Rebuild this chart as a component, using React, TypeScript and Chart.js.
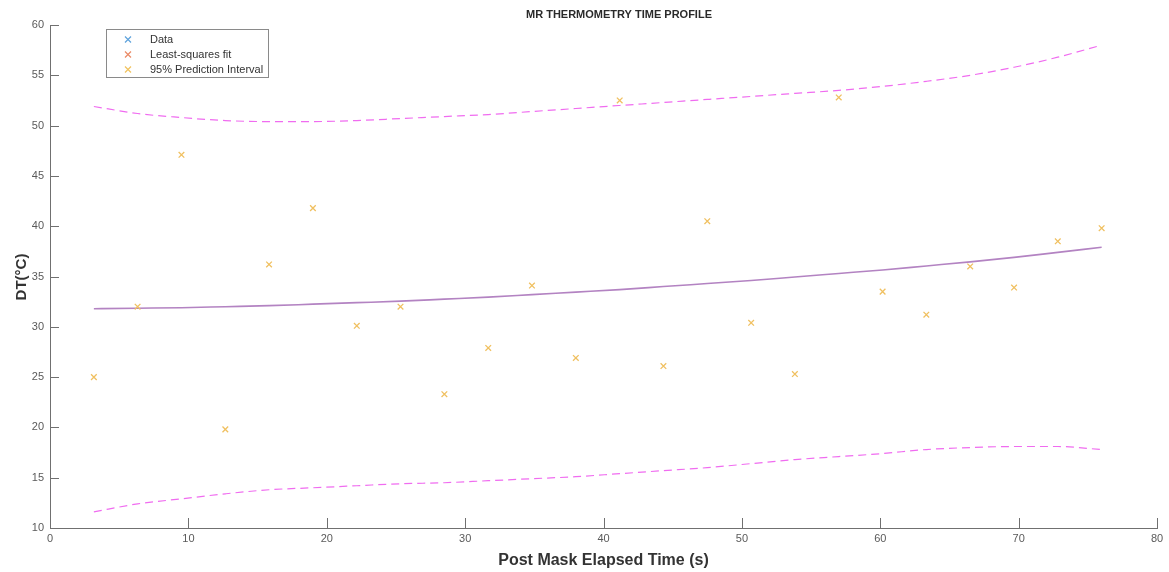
import React, { useEffect, useRef } from "react";
import { Chart, registerables } from "chart.js";

Chart.register(...registerables);

// Elapsed time after mask (s)
const timeS = [3.17, 6.33, 9.5, 12.67, 15.83, 19, 22.17, 25.33, 28.5, 31.67, 34.83, 38, 41.17, 44.33, 47.5, 50.67, 53.83, 57, 60.17, 63.33, 66.5, 69.67, 72.83, 76];
// Measured temperature rise (°C)
const measured = [25.0, 32.0, 47.1, 19.8, 36.2, 41.8, 30.1, 32.0, 23.3, 27.9, 34.1, 26.9, 52.5, 26.1, 40.5, 30.4, 25.3, 52.8, 33.5, 31.2, 36.0, 33.9, 38.5, 39.8];
// Least-squares fit evaluated at each time
const fitted = [31.8, 31.85, 31.9, 32.0, 32.1, 32.25, 32.4, 32.55, 32.75, 32.95, 33.2, 33.45, 33.7, 34.0, 34.3, 34.6, 34.95, 35.3, 35.65, 36.05, 36.45, 36.9, 37.4, 37.9];
// 95% prediction interval bounds
const upperPI = [51.9, 51.2, 50.8, 50.5, 50.4, 50.4, 50.5, 50.7, 50.9, 51.1, 51.4, 51.7, 52.0, 52.3, 52.6, 52.9, 53.2, 53.5, 53.9, 54.4, 55.0, 55.8, 56.8, 58.0];
const lowerPI = [11.6, 12.4, 12.9, 13.4, 13.8, 14.0, 14.2, 14.4, 14.5, 14.7, 14.9, 15.1, 15.4, 15.7, 16.0, 16.4, 16.8, 17.1, 17.4, 17.8, 18.0, 18.1, 18.1, 17.8];

const legendLabels = ["Data", "Least-squares fit", "95% Prediction Interval"];
const legendColors = ["#5fa3dc", "#ea8a66", "#f1c35f"];

const titleText = "MR THERMOMETRY TIME PROFILE";
const xTitle = "Post Mask Elapsed Time (s)";
const yTitle = "DT(°C)";

const FONT = "'Liberation Sans', Arial, sans-serif";
const AXIS_COLOR = "#707070";

const toPts = (ys: number[]) => timeS.map((x, i) => ({ x, y: ys[i] }));

const decorations = {
  id: "decorations",
  afterDraw(chart: any) {
    const ctx = chart.ctx as CanvasRenderingContext2D;
    const { left, right, bottom } = chart.chartArea;
    const xs = chart.scales.x;
    const ys = chart.scales.y;
    ctx.save();

    // inward tick marks
    ctx.strokeStyle = AXIS_COLOR;
    ctx.lineWidth = 1;
    ctx.beginPath();
    xs.ticks.forEach((t: any) => {
      const px = Math.round(xs.getPixelForValue(t.value)) + 0.5;
      ctx.moveTo(px, bottom);
      ctx.lineTo(px, bottom - 10);
    });
    ys.ticks.forEach((t: any) => {
      const py = Math.round(ys.getPixelForValue(t.value)) + 0.5;
      ctx.moveTo(left, py);
      ctx.lineTo(left + 9, py);
    });
    ctx.stroke();

    // title
    ctx.fillStyle = "#2a2a2a";
    ctx.font = `bold 11px ${FONT}`;
    ctx.textAlign = "center";
    ctx.textBaseline = "middle";
    ctx.fillText(titleText, 619, 15);

    // axis titles
    ctx.font = `bold 16px ${FONT}`;
    ctx.fillStyle = "#333";
    ctx.fillText(xTitle, (left + right) / 2, 561);
    ctx.save();
    ctx.translate(22, 277);
    ctx.rotate(-Math.PI / 2);
    ctx.font = `bold 15px ${FONT}`;
    ctx.fillText(yTitle, 0, 0);
    ctx.restore();

    // legend box
    const bx = 106.5, by = 29.5, bw = 162, bh = 48;
    ctx.fillStyle = "#fff";
    ctx.fillRect(bx, by, bw, bh);
    ctx.strokeStyle = "#8a8a8a";
    ctx.lineWidth = 1;
    ctx.strokeRect(bx, by, bw, bh);
    ctx.font = `11px ${FONT}`;
    ctx.textAlign = "left";
    legendLabels.forEach((lbl, i) => {
      const cy = 39.5 + i * 15;
      const cx = 128;
      ctx.strokeStyle = legendColors[i];
      ctx.lineWidth = 1.2;
      ctx.beginPath();
      ctx.moveTo(cx - 3, cy - 3);
      ctx.lineTo(cx + 3, cy + 3);
      ctx.moveTo(cx + 3, cy - 3);
      ctx.lineTo(cx - 3, cy + 3);
      ctx.stroke();
      ctx.fillStyle = "#333";
      ctx.fillText(lbl, 150, cy);
    });
    ctx.restore();
  },
};

export default function App() {
  const ref = useRef<HTMLCanvasElement | null>(null);

  useEffect(() => {
    document.body.style.margin = "0";
    const canvas = ref.current;
    if (!canvas) return;
    const chart = new Chart(canvas, {
      type: "scatter",
      data: {
        datasets: [
          {
            label: "Data",
            data: toPts(measured),
            showLine: false,
            pointStyle: "crossRot",
            pointRadius: 4,
            borderWidth: 1.3,
            borderColor: "#f0c060",
            backgroundColor: "#f0c060",
          },
          {
            label: "Least-squares fit",
            data: toPts(fitted),
            showLine: true,
            pointRadius: 0,
            borderColor: "#b383c2",
            borderWidth: 1.6,
            cubicInterpolationMode: "monotone",
          },
          {
            label: "95% Prediction Interval upper",
            data: toPts(upperPI),
            showLine: true,
            pointRadius: 0,
            borderColor: "#f06cf0",
            borderWidth: 1.2,
            borderDash: [8, 5],
            cubicInterpolationMode: "monotone",
          },
          {
            label: "95% Prediction Interval lower",
            data: toPts(lowerPI),
            showLine: true,
            pointRadius: 0,
            borderColor: "#f06cf0",
            borderWidth: 1.2,
            borderDash: [8, 5],
            cubicInterpolationMode: "monotone",
          },
        ],
      },
      options: {
        responsive: false,
        animation: false,
        layout: { padding: { left: 0, right: 12, top: 25, bottom: 0 } },
        plugins: {
          legend: { display: false },
          title: { display: false },
          tooltip: { enabled: false },
        },
        scales: {
          x: {
            type: "linear",
            min: 0,
            max: 80,
            ticks: {
              stepSize: 10,
              color: "#5a5a5a",
              font: { family: FONT, size: 11 },
              padding: 4,
            },
            grid: { display: false, drawTicks: false },
            border: { display: true, color: AXIS_COLOR, width: 1 },
            afterFit: (s: any) => {
              s.height = 44;
            },
          },
          y: {
            type: "linear",
            min: 10,
            max: 60,
            ticks: {
              stepSize: 5,
              color: "#5a5a5a",
              font: { family: FONT, size: 11 },
              padding: 6,
            },
            grid: { display: false, drawTicks: false },
            border: { display: true, color: AXIS_COLOR, width: 1 },
            afterFit: (s: any) => {
              s.width = 50;
            },
          },
        },
      },
      plugins: [decorations],
    });
    return () => chart.destroy();
  }, []);

  return <canvas ref={ref} width={1169} height={572} style={{ display: "block" }} />;
}
